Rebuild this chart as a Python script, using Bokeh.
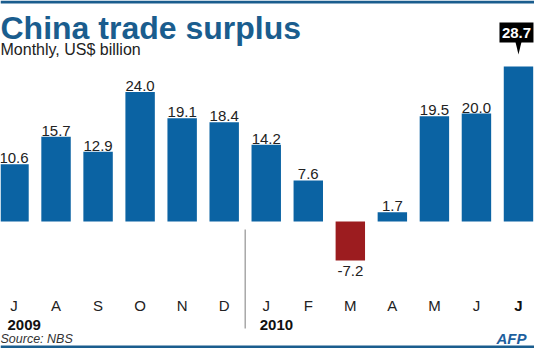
from bokeh.plotting import figure
from bokeh.models import ColumnDataSource
from bokeh.embed import file_html
from bokeh.resources import INLINE
from bokeh.core.properties import value

# ---- data ----
months = ["J", "A", "S", "O", "N", "D", "J", "F", "M", "A", "M", "J", "J"]
surplus = [10.6, 15.7, 12.9, 24.0, 19.1, 18.4, 14.2, 7.6, -7.2, 1.7, 19.5, 20.0, 28.7]
value_labels = ["10.6", "15.7", "12.9", "24.0", "19.1", "18.4", "14.2", "7.6",
                "-7.2", "1.7", "19.5", "20.0", "28.7"]
years = ["2009", "2010"]
year_start_idx = [0, 6]
title_text = "China trade surplus"
subtitle_text = "Monthly, US$ billion"
source_text = "Source: NBS"

# ---- style / layout ----
FONT = value("Liberation Sans")
BLUE = "#0b63a3"
TITLE_BLUE = "#1a5d8e"
RED = "#9c1c1f"
W, H = 534, 348
OX, OY = 8, 8            # page margin
STEP = 42.04             # px per month
PXU = 5.4                # px per US$ bn
ZERO_PY = 229            # pixel row of the zero line in the page
FIRST_PX = 21.5          # pixel column of first bar centre

x_start = -(FIRST_PX - OX) / STEP
x_end = x_start + W / STEP
y_end = (ZERO_PY - OY) / PXU
y_start = y_end - H / PXU


def ix(px):
    return x_start + (px - OX) / STEP


def iy(py):
    return (ZERO_PY - py) / PXU


idx = list(range(len(months)))
colors = [BLUE if v >= 0 else RED for v in surplus]

p = figure(width=W, height=H, output_backend="svg", toolbar_location=None,
           x_range=(x_start, x_end), y_range=(y_start, y_end),
           x_axis_type=None, y_axis_type=None, min_border=0,
           outline_line_color=None, background_fill_color="white",
           border_fill_color="white")
p.grid.visible = False

# stripes
p.quad(left=[x_start], right=[x_end], top=[y_end], bottom=[y_end - 3 / PXU],
       color=TITLE_BLUE, line_color=None)
p.quad(left=[x_start], right=[x_end], top=[y_start + 3 / PXU], bottom=[y_start],
       color=TITLE_BLUE, line_color=None)

# bars
bar_src = ColumnDataSource(dict(x=idx, top=surplus, color=colors))
p.vbar(x="x", top="top", bottom=0, width=0.70, color="color", line_color=None,
       source=bar_src)

# value labels
last = len(surplus) - 1
pos = [i for i in idx if surplus[i] >= 0 and i != last]
neg = [i for i in idx if surplus[i] < 0]
p.text(x=pos, y=[surplus[i] for i in pos], text=[value_labels[i] for i in pos],
       text_align="center", text_baseline="alphabetic", y_offset=-6,
       text_font=FONT, text_font_size="15px", text_color="#222222")
p.text(x=neg, y=[surplus[i] for i in neg], text=[value_labels[i] for i in neg],
       text_align="center", text_baseline="top", y_offset=6,
       text_font=FONT, text_font_size="15px", text_color="#222222")

# callout for latest value
v = surplus[last]
cx = last - 2 / STEP
p.rect(x=[cx], y=[v + 34 / PXU], width=34 / STEP, height=20 / PXU,
       color="black", line_color=None)
p.patch(x=[last - 3 / STEP, last + 3 / STEP, last],
        y=[v + 24.5 / PXU, v + 24.5 / PXU, v + 12 / PXU], color="black", line_color=None)
p.text(x=[cx], y=[v + 34 / PXU], text=[value_labels[last]], text_align="center",
       text_baseline="middle", text_font=FONT, text_font_size="15px",
       text_font_style="bold", text_color="white")

# month labels
p.text(x=idx[:-1], y=[iy(313)] * (len(idx) - 1), text=months[:-1],
       text_align="center", text_baseline="middle", text_font=FONT,
       text_font_size="15px", text_color="#222222")
p.text(x=[idx[-1]], y=[iy(313)], text=[months[-1]], text_align="center",
       text_baseline="middle", text_font=FONT, text_font_size="15px",
       text_font_style="bold", text_color="#111111")

# year labels
p.text(x=[i - 6.5 / STEP for i in year_start_idx], y=[iy(332)] * len(years), text=years,
       text_align="left", text_baseline="middle", text_font=FONT,
       text_font_size="15px", text_font_style="bold", text_color="#111111")

# year separator
sep_x = year_start_idx[1] - 0.5
p.segment(x0=[sep_x], y0=[iy(237)], x1=[sep_x], y1=[iy(336)],
          line_color="#a8a8a8", line_width=1.5)

# title / subtitle / source / logo
p.text(x=[ix(8)], y=[iy(35)], text=[title_text], text_align="left",
       text_baseline="alphabetic", text_font=FONT, text_font_size="32px",
       text_font_style="bold", text_color=TITLE_BLUE)
p.text(x=[ix(8)], y=[iy(57)], text=[subtitle_text], text_align="left",
       text_baseline="alphabetic", text_font=FONT, text_font_size="16px",
       text_color="#222222")
p.text(x=[ix(8)], y=[iy(346)], text=[source_text], text_align="left",
       text_baseline="alphabetic", text_font=FONT, text_font_size="12.5px",
       text_font_style="italic", text_color="#333333")
p.text(x=[ix(534)], y=[iy(346)], text=["AFP"], text_align="right",
       text_baseline="alphabetic", text_font=FONT, text_font_size="15px",
       text_font_style="bold italic", text_color="#1d5f9e")

open("out.html", "w").write(file_html(p, INLINE))
